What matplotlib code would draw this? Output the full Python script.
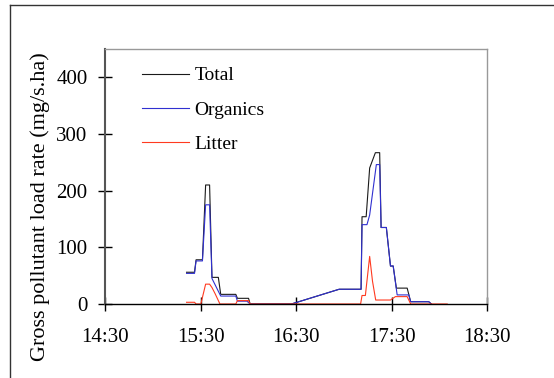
import matplotlib.pyplot as plt
from matplotlib.lines import Line2D

plt.rcParams['font.family'] = ['Liberation Serif', 'DejaVu Serif']

# minutes after 14:30
total_t = [51, 56, 57, 61, 63, 65.5, 67, 71, 72.5, 82, 83, 90, 91, 117, 147,
           160.8, 161.4, 164, 166.2, 169.8, 172.5, 173.4, 176.7, 179.3, 181,
           183, 189.8, 192, 203.4, 205]
total_v = [56, 56, 78, 78, 210, 210, 47, 47, 17, 17, 10, 10, 0, 0, 26,
           26, 154, 154, 240, 267, 267, 135, 135, 67, 67,
           28, 28, 4, 4, 0]

org_t = [51, 56, 57, 61, 63, 65.5, 67, 72.5, 82, 83, 89, 91, 117, 147,
         160.8, 161.4, 164.5, 166.2, 170.4, 172.5, 173.4, 176.7, 179.3, 181,
         183.5, 190.8, 192, 203.4, 205]
org_v = [54, 54, 76, 76, 175, 175, 45, 14, 14, 5, 5, 0, 0, 26,
         26, 140, 140, 157, 246, 246, 135, 135, 67, 67,
         16, 16, 4, 4, 0]

lit_t = [51, 56, 57, 60, 63, 65.5, 67, 69, 72, 82, 83, 90, 91, 160.5, 161.4,
         163.5, 166.2, 168, 170, 179.3, 182.4, 189.8, 192, 215]
lit_v = [3, 3, 0, 0, 35, 35, 29, 18, 0, 0, 6, 6, 0, 0, 15,
         15, 84, 40, 7, 7, 13, 13, 0, 0]

xtick_pos = [0, 60, 120, 180, 240]
xtick_labels = ['14:30', '15:30', '16:30', '17:30', '18:30']
ytick_pos = [0, 100, 200, 300, 400]

fig = plt.figure(figsize=(5.54, 3.78), dpi=100)
ax = fig.add_axes([0.1904, 0.1958, 0.6886, 0.6746])

ax.plot(total_t, total_v, color='#1a1a1a', lw=0.8, label='Total')
ax.plot(org_t, org_v, color='#3030d0', lw=0.8, label='Organics')
ax.plot(lit_t, lit_v, color='#ff3a20', lw=0.8, label='Litter')

ax.set_xlim(0, 240)
ax.set_ylim(0, 450)
ax.set_xticks(xtick_pos)
ax.set_xticklabels(xtick_labels)
ax.set_yticks(ytick_pos)
ax.tick_params(direction='inout', length=10, width=1, labelsize=15)
ax.tick_params(axis='x', pad=12)
ax.tick_params(axis='y', pad=8)

for s in ['top', 'right']:
    ax.spines[s].set_color('#999999')
    ax.spines[s].set_linewidth(1)
ax.spines['left'].set_color('#555555')
ax.spines['left'].set_linewidth(1.5)
ax.spines['bottom'].set_color('black')
ax.spines['bottom'].set_linewidth(1)

ax.set_ylabel('Gross pollutant load rate (mg/s.ha)', fontsize=16)
ax.yaxis.set_label_coords(-0.145, 0.38)

ax.legend(loc='upper left', bbox_to_anchor=(0.096, 0.93), frameon=False,
          fontsize=14, handlelength=2.4, handletextpad=0.3,
          labelspacing=0.85, borderpad=0, borderaxespad=0)

# outer frame of the original chart object
fig.add_artist(Line2D([10 / 554, 10 / 554], [0, 1 - 5 / 378], color='#333333', lw=1))
fig.add_artist(Line2D([10 / 554, 1], [1 - 5 / 378, 1 - 5 / 378], color='#333333', lw=1))

fig.savefig('out.png', dpi=100)
